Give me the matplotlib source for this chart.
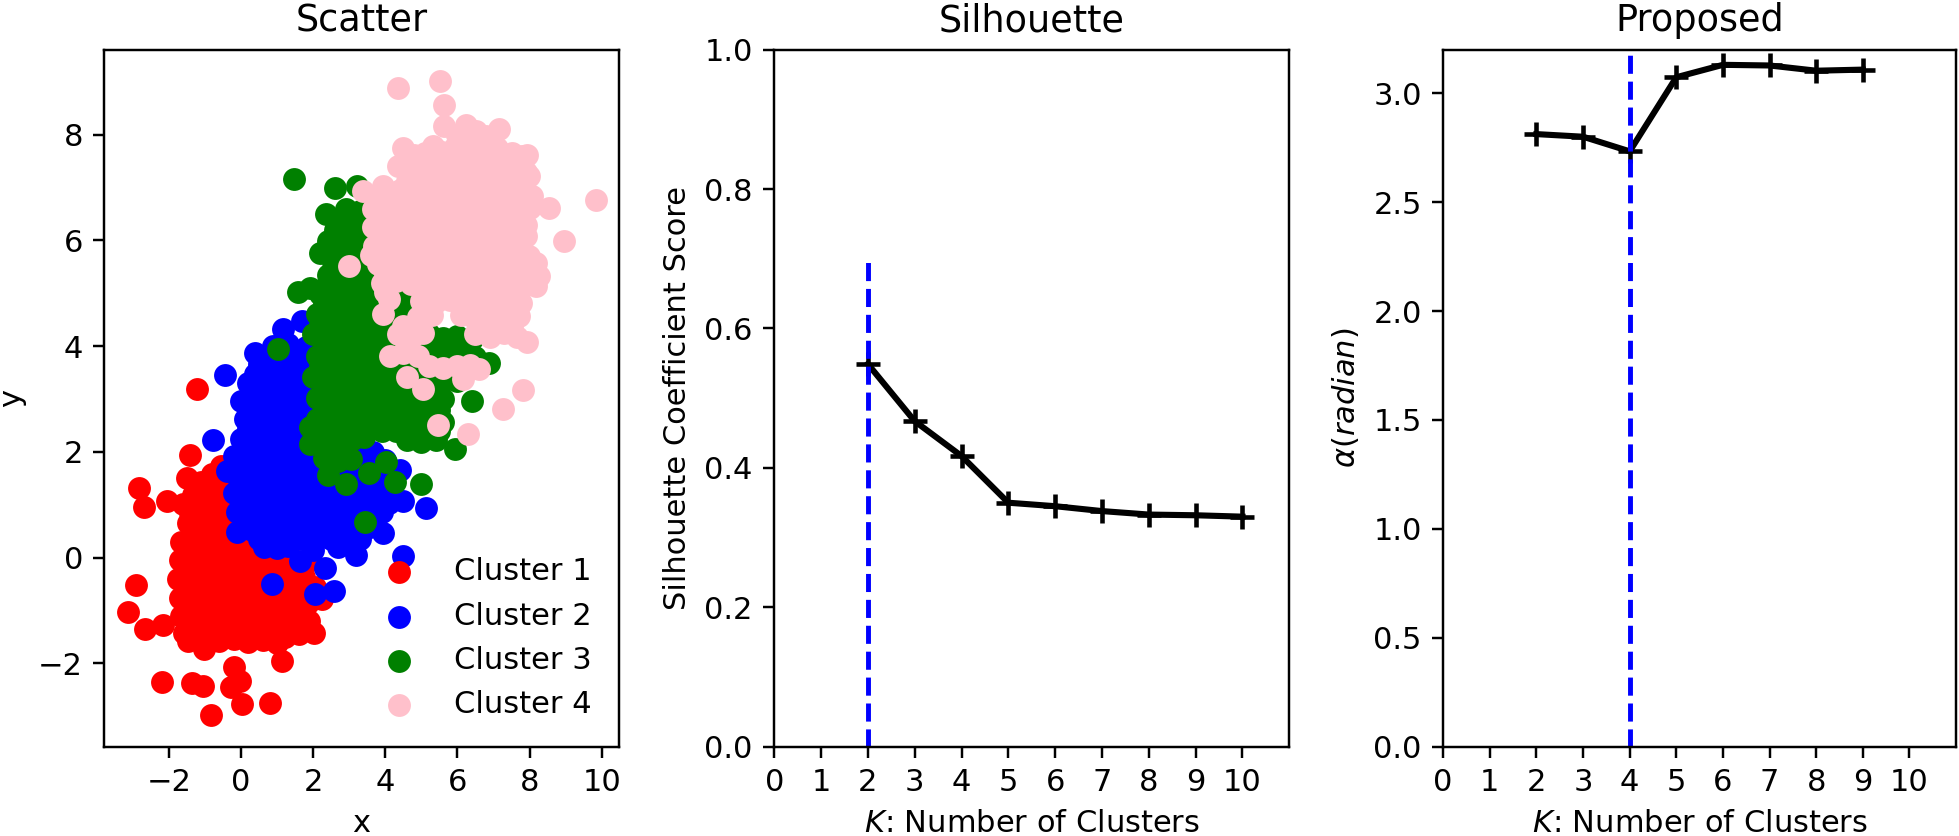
import matplotlib
matplotlib.use("Agg")
import matplotlib.pyplot as plt

# ---------------- data ----------------
red_pts = [
    (-1.21, 3.18), (-2.82, 1.32), (-2.69, 0.95), (-2.05, 1.07), (-1.40, 1.93), (-2.92, -0.52),
    (-3.14, -1.04), (-2.67, -1.35), (-2.15, -1.27), (-2.20, -2.36), (-1.35, -2.38), (-1.06, -2.43),
    (-0.82, -2.98), (0.04, -2.77), (0.81, -2.75), (-0.28, -2.45), (-0.02, -2.33), (-0.19, -2.08),
    (1.14, -1.96), (2.02, -1.42), (2.25, -0.79), (-0.56, 1.74), (-1.02, -1.73), (-1.48, -1.58),
    (-1.50, 1.50), (-1.10, 1.42), (-0.80, 1.58), (-1.32, 1.18),
    (-1.62, 1.02), (-1.20, 0.92), (-0.82, 1.12), (-0.42, 1.00), (0.02, 0.95),
    (-1.48, 0.66), (-1.08, 0.74), (-0.70, 0.60), (-0.30, 0.76), (0.18, 0.62), (0.62, 0.70),
    (-1.66, 0.30), (-1.28, 0.36), (-0.90, 0.24), (-0.50, 0.40), (-0.10, 0.30), (0.30, 0.20),
    (0.80, 0.35), (1.20, 0.22),
    (-1.70, -0.05), (-1.38, 0.02), (-1.00, -0.10), (-0.60, 0.05), (-0.20, -0.04), (0.22, -0.10),
    (0.60, 0.02), (1.00, -0.15), (1.40, 0.00), (1.80, -0.10),
    (-1.74, -0.40), (-1.42, -0.34), (-1.04, -0.45), (-0.64, -0.30), (-0.24, -0.42), (0.16, -0.34),
    (0.56, -0.46), (0.96, -0.30), (1.36, -0.44), (1.74, -0.36), (2.04, -0.56),
    (-1.70, -0.76), (-1.34, -0.80), (-0.94, -0.70), (-0.54, -0.82), (-0.14, -0.70), (0.26, -0.80),
    (0.66, -0.70), (1.06, -0.82), (1.46, -0.74), (1.86, -0.86),
    (-1.66, -1.10), (-1.28, -1.14), (-0.88, -1.04), (-0.48, -1.16), (-0.08, -1.04), (0.32, -1.14),
    (0.72, -1.04), (1.12, -1.16), (1.52, -1.10), (1.90, -1.20),
    (-1.58, -1.42), (-1.18, -1.48), (-0.78, -1.38), (-0.38, -1.50), (0.02, -1.40), (0.42, -1.50),
    (0.82, -1.44), (1.22, -1.50), (1.62, -1.44),
    (-0.60, -1.58), (-0.20, -1.55), (0.20, -1.60), (0.60, -1.56), (1.00, -1.62),
]
red_core = [
    (-1.00, 1.30), (-0.60, 1.30),
    (-1.40, 0.85), (-1.00, 0.85), (-0.60, 0.85), (-0.20, 0.85),
    (-1.30, 0.50), (-0.90, 0.50), (-0.50, 0.50), (-0.10, 0.50), (0.40, 0.50),
    (-1.50, 0.15), (-1.10, 0.15), (-0.70, 0.15), (-0.30, 0.15), (0.10, 0.15), (0.50, 0.15), (0.90, 0.15),
    (-1.55, -0.22), (-1.20, -0.22), (-0.80, -0.22), (-0.40, -0.22), (0.00, -0.22), (0.40, -0.22),
    (0.80, -0.22), (1.20, -0.22), (1.60, -0.22),
    (-1.50, -0.58), (-1.10, -0.58), (-0.70, -0.58), (-0.30, -0.58), (0.10, -0.58), (0.50, -0.58),
    (0.90, -0.58), (1.30, -0.58), (1.70, -0.58),
    (-1.50, -0.93), (-1.10, -0.93), (-0.70, -0.93), (-0.30, -0.93), (0.10, -0.93), (0.50, -0.93),
    (0.90, -0.93), (1.30, -0.93), (1.70, -0.93),
    (-1.40, -1.28), (-1.00, -1.28), (-0.60, -1.28), (-0.20, -1.28), (0.20, -1.28), (0.60, -1.28),
    (1.00, -1.28), (1.40, -1.28), (1.75, -1.28),
]
blue_pts = [
    (-0.77, 2.22), (-0.44, 3.46), (0.39, 3.86), (1.17, 4.32), (1.70, 4.47), (2.40, 4.88),
    (5.13, 0.94), (4.49, 1.07), (4.40, 1.66), (4.49, 0.02), (3.93, 0.46), (3.20, 0.05),
    (2.57, -0.63), (2.06, -0.69), (0.86, -0.50), (-0.12, 0.48), (-0.40, 1.64), (0.64, 0.19),
    (1.65, -0.06), (2.34, -0.19), (3.67, 1.99), (3.67, 1.11),
    (0.30, 0.52), (0.70, 0.45), (1.10, 0.55), (1.50, 0.42), (1.90, 0.50), (2.30, 0.40),
    (2.70, 0.52), (3.10, 0.45), (3.50, 0.55),
    (1.00, 0.18), (1.30, 0.22), (2.00, 0.15), (2.70, 0.20), (3.00, 0.25),
    (-0.10, 0.86), (0.30, 0.80), (0.70, 0.90), (1.10, 0.82), (1.50, 0.88), (1.90, 0.80),
    (2.30, 0.92), (2.70, 0.84), (3.10, 0.88), (3.50, 0.80), (3.90, 0.86),
    (-0.20, 1.22), (0.20, 1.16), (0.60, 1.24), (1.00, 1.18), (1.40, 1.22), (1.80, 1.16),
    (2.20, 1.24), (2.60, 1.18), (3.00, 1.22), (3.40, 1.16), (3.80, 1.24), (4.20, 1.20),
    (-0.10, 1.55), (0.30, 1.50), (0.70, 1.58), (1.10, 1.52), (1.50, 1.56), (1.90, 1.50),
    (2.30, 1.56), (2.70, 1.52), (3.10, 1.58), (3.50, 1.52), (3.90, 1.56),
    (-0.20, 1.92), (0.20, 1.86), (0.60, 1.94), (1.00, 1.88), (1.40, 1.92), (1.80, 1.86),
    (2.20, 1.94), (3.20, 1.90), (4.00, 1.85),
    (0.00, 2.25), (0.40, 2.20), (0.80, 2.28), (1.20, 2.22), (1.60, 2.26), (2.00, 2.20),
    (0.10, 2.62), (0.50, 2.56), (0.90, 2.64), (1.30, 2.58), (1.70, 2.62),
    (0.00, 2.96), (0.40, 2.92), (0.80, 2.98), (1.20, 2.94), (1.60, 2.96),
    (0.20, 3.30), (0.60, 3.26), (1.00, 3.32), (1.40, 3.28), (1.80, 3.30),
    (0.50, 3.66), (0.90, 3.62), (1.30, 3.68), (1.70, 3.64),
    (0.90, 4.00), (1.30, 4.04), (1.80, 3.98), (2.20, 4.10), (2.00, 4.45),
]
blue_core = [
    (0.10, 0.68), (0.50, 0.68), (0.90, 0.68), (1.30, 0.68), (1.70, 0.68), (2.10, 0.68),
    (2.50, 0.68), (2.90, 0.68), (3.30, 0.68), (3.70, 0.68),
    (0.50, 0.35), (0.90, 0.35), (1.30, 0.35), (1.70, 0.35), (2.10, 0.35), (2.50, 0.35),
    (2.90, 0.35), (3.30, 0.35),
    (0.10, 1.03), (0.50, 1.03), (0.90, 1.03), (1.30, 1.03), (1.70, 1.03), (2.10, 1.03),
    (2.50, 1.03), (2.90, 1.03), (3.30, 1.03), (3.70, 1.03), (4.10, 1.03),
    (0.00, 1.38), (0.40, 1.38), (0.80, 1.38), (1.20, 1.38), (1.60, 1.38), (2.00, 1.38),
    (2.40, 1.38), (2.80, 1.38), (3.20, 1.38), (3.60, 1.38), (4.00, 1.38),
    (0.00, 1.72), (0.40, 1.72), (0.80, 1.72), (1.20, 1.72), (1.60, 1.72), (2.00, 1.72),
    (2.40, 1.72), (2.80, 1.72), (3.40, 1.72), (3.80, 1.72),
    (0.20, 2.08), (0.60, 2.08), (1.00, 2.08), (1.40, 2.08), (1.80, 2.08),
    (0.20, 2.43), (0.60, 2.43), (1.00, 2.43), (1.40, 2.43), (1.80, 2.43),
    (0.20, 2.78), (0.60, 2.78), (1.00, 2.78), (1.40, 2.78), (1.80, 2.78),
    (0.40, 3.13), (0.80, 3.13), (1.20, 3.13), (1.60, 3.13),
    (0.40, 3.48), (0.80, 3.48), (1.20, 3.48), (1.60, 3.48),
    (0.70, 3.82), (1.10, 3.82), (1.50, 3.82), (1.90, 3.82),
]
green_pts = [
    (1.47, 7.16), (2.61, 7.00), (3.21, 7.02), (2.36, 6.49), (2.42, 5.98), (2.19, 5.76),
    (2.41, 5.34), (1.58, 5.02), (1.91, 5.09), (1.03, 3.95), (3.43, 0.67), (2.41, 1.56),
    (2.92, 1.40), (3.56, 1.59), (4.26, 1.42), (4.99, 1.39), (5.94, 2.05), (6.41, 2.97),
    (4.03, 1.80), (6.87, 3.68), (1.91, 2.47), (1.91, 2.15),
    (2.90, 6.60), (3.30, 6.55),
    (2.60, 6.20), (2.90, 6.24), (3.30, 6.18), (3.70, 6.22),
    (2.60, 5.80), (3.00, 5.76), (3.40, 5.82),
    (2.70, 5.40), (3.00, 5.44), (3.30, 5.38), (3.70, 5.42),
    (2.20, 4.98), (2.60, 5.04), (3.00, 4.98), (3.40, 5.02), (3.80, 4.96), (4.50, 4.92),
    (2.10, 4.60), (2.50, 4.64), (2.90, 4.58), (3.30, 4.62), (3.70, 4.56), (4.10, 4.60), (4.50, 4.64),
    (2.00, 4.22), (2.40, 4.18), (2.80, 4.24), (3.20, 4.18), (3.60, 4.22), (4.00, 4.18),
    (4.40, 4.24), (4.80, 4.18), (5.20, 4.22), (5.60, 4.16), (6.00, 4.20), (6.40, 4.14),
    (2.10, 3.82), (2.50, 3.78), (2.90, 3.84), (3.30, 3.78), (3.70, 3.82), (4.10, 3.78),
    (4.50, 3.84), (4.90, 3.78), (5.30, 3.82), (5.70, 3.94), (6.10, 3.96), (6.50, 3.80),
    (2.00, 3.42), (2.40, 3.38), (2.80, 3.44), (3.20, 3.38), (3.60, 3.42), (4.00, 3.38),
    (4.40, 3.44), (4.80, 3.38), (5.20, 3.42), (5.60, 3.38), (6.00, 3.34),
    (2.10, 3.02), (2.50, 2.98), (2.90, 3.04), (3.30, 2.98), (3.70, 3.02), (4.10, 2.98),
    (4.50, 3.04), (4.90, 2.98), (5.30, 3.02), (5.60, 3.00),
    (2.10, 2.62), (2.50, 2.58), (2.90, 2.64), (3.30, 2.58), (3.70, 2.62), (4.10, 2.58),
    (4.50, 2.64), (4.90, 2.58), (5.30, 2.62), (5.60, 2.56),
    (2.30, 2.22), (2.70, 2.18), (3.10, 2.24), (3.40, 2.28), (4.60, 2.22), (5.00, 2.18), (5.40, 2.22),
    (2.30, 1.88), (2.70, 1.82), (3.05, 1.86),
]
green_core = [
    (2.75, 6.40), (3.10, 6.40),
    (2.80, 6.00), (3.20, 6.00),
    (2.55, 5.60), (2.85, 5.60), (3.15, 5.60), (3.50, 5.60),
    (2.40, 5.20), (2.80, 5.20), (3.20, 5.20), (3.60, 5.20),
    (2.30, 4.80), (2.70, 4.80), (3.10, 4.80), (3.50, 4.80), (3.90, 4.80), (4.30, 4.80),
    (2.20, 4.40), (2.60, 4.40), (3.00, 4.40), (3.40, 4.40), (3.80, 4.40), (4.20, 4.40),
    (4.60, 4.40), (5.00, 4.40),
    (2.30, 4.00), (2.70, 4.00), (3.10, 4.00), (3.50, 4.00), (3.90, 4.00), (4.30, 4.00),
    (4.70, 4.00), (5.10, 4.00), (5.50, 4.00), (5.90, 4.00), (6.30, 4.00),
    (2.20, 3.60), (2.60, 3.60), (3.00, 3.60), (3.40, 3.60), (3.80, 3.60), (4.20, 3.60),
    (4.60, 3.60), (5.00, 3.60), (5.40, 3.60), (5.80, 3.60), (6.20, 3.60),
    (2.30, 3.20), (2.70, 3.20), (3.10, 3.20), (3.50, 3.20), (3.90, 3.20), (4.30, 3.20),
    (4.70, 3.20), (5.10, 3.20), (5.50, 3.20),
    (2.30, 2.80), (2.70, 2.80), (3.10, 2.80), (3.50, 2.80), (3.90, 2.80), (4.30, 2.80),
    (4.70, 2.80), (5.10, 2.80), (5.50, 2.80),
    (2.30, 2.40), (2.70, 2.40), (3.10, 2.40), (3.50, 2.40), (3.90, 2.40), (4.30, 2.40),
    (4.70, 2.40), (5.10, 2.40), (5.50, 2.40),
    (2.50, 2.05), (2.90, 2.05),
]
pink_pts = [
    (4.36, 8.88), (5.51, 9.01), (5.64, 8.57), (5.64, 8.16), (6.24, 8.19), (6.52, 8.06),
    (7.16, 8.10), (7.94, 7.62), (7.99, 7.21), (9.83, 6.77), (8.54, 6.62), (8.96, 5.98),
    (7.90, 6.08), (8.18, 5.58), (8.18, 5.14), (7.94, 4.07), (7.81, 3.16), (7.26, 2.81),
    (6.29, 2.34), (5.46, 2.50), (5.05, 3.19), (4.59, 3.41), (4.12, 3.81), (3.94, 4.61),
    (6.15, 3.38), (6.61, 3.57), (7.44, 4.45), (2.99, 5.52), (3.38, 6.94), (3.94, 7.02),
    (4.49, 7.75), (4.36, 7.40), (5.32, 7.78), (8.08, 6.84), (7.99, 5.70), (8.27, 5.32),
    (6.00, 8.00), (6.80, 7.98),
    (4.80, 7.62), (5.10, 7.66), (5.50, 7.70), (5.90, 7.74), (6.30, 7.76), (6.70, 7.72),
    (7.10, 7.74), (7.50, 7.66), (7.80, 7.60),
    (4.70, 7.30), (5.10, 7.34), (5.50, 7.28), (5.90, 7.32), (6.30, 7.28), (6.70, 7.34),
    (7.10, 7.28), (7.50, 7.32), (7.90, 7.30),
    (4.40, 6.96), (4.80, 6.92), (5.20, 6.98), (5.60, 6.92), (6.00, 6.98), (6.40, 6.92),
    (6.80, 6.98), (7.20, 6.92), (7.60, 6.98),
    (3.65, 6.60), (4.00, 6.64), (4.40, 6.58), (4.80, 6.64), (5.20, 6.58), (5.60, 6.64),
    (6.00, 6.58), (6.40, 6.64), (6.80, 6.58), (7.20, 6.64), (7.60, 6.58), (8.00, 6.62),
    (3.65, 6.25), (4.00, 6.22), (4.40, 6.28), (4.80, 6.22), (5.20, 6.28), (5.60, 6.22),
    (6.00, 6.28), (6.40, 6.22), (6.80, 6.28), (7.20, 6.22), (7.60, 6.28), (7.90, 6.30),
    (3.70, 5.90), (4.10, 5.86), (4.50, 5.92), (4.90, 5.86), (5.30, 5.92), (5.70, 5.86),
    (6.10, 5.92), (6.50, 5.86), (6.90, 5.92), (7.30, 5.86), (7.70, 5.92),
    (3.80, 5.55), (4.20, 5.52), (4.60, 5.58), (5.00, 5.52), (5.40, 5.58), (5.80, 5.52),
    (6.20, 5.58), (6.60, 5.52), (7.00, 5.58), (7.40, 5.52), (7.80, 5.56),
    (3.90, 5.20), (4.30, 5.24), (4.70, 5.18), (5.10, 5.24), (5.50, 5.18), (5.90, 5.24),
    (6.30, 5.18), (6.70, 5.24), (7.10, 5.18), (7.50, 5.24), (7.85, 5.20),
    (4.10, 4.90), (5.00, 4.86), (5.40, 4.84), (5.80, 4.88), (6.20, 4.84), (6.60, 4.88),
    (7.00, 4.84), (7.40, 4.88), (7.75, 4.82),
    (4.90, 4.55), (5.30, 4.58), (6.10, 4.58), (6.50, 4.52), (6.90, 4.58), (7.30, 4.52), (7.70, 4.56),
    (4.35, 4.22), (4.75, 4.18), (5.05, 4.24), (6.50, 4.22), (6.90, 4.18), (7.30, 4.24), (7.65, 4.18),
    (4.50, 3.86), (4.90, 3.82),
    (5.20, 3.62), (5.60, 3.58), (6.00, 3.62), (6.35, 3.64),
]
pink_core = [
    (4.90, 7.48), (5.30, 7.48), (5.70, 7.48), (6.10, 7.48), (6.50, 7.48), (6.90, 7.48),
    (7.30, 7.48), (7.70, 7.48),
    (4.60, 7.12), (5.00, 7.12), (5.40, 7.12), (5.80, 7.12), (6.20, 7.12), (6.60, 7.12),
    (7.00, 7.12), (7.40, 7.12), (7.80, 7.12),
    (3.85, 6.78), (4.20, 6.78), (4.60, 6.78), (5.00, 6.78), (5.40, 6.78), (5.80, 6.78),
    (6.20, 6.78), (6.60, 6.78), (7.00, 6.78), (7.40, 6.78), (7.80, 6.78),
    (3.80, 6.42), (4.20, 6.42), (4.60, 6.42), (5.00, 6.42), (5.40, 6.42), (5.80, 6.42),
    (6.20, 6.42), (6.60, 6.42), (7.00, 6.42), (7.40, 6.42), (7.80, 6.42),
    (3.85, 6.08), (4.30, 6.08), (4.70, 6.08), (5.10, 6.08), (5.50, 6.08), (5.90, 6.08),
    (6.30, 6.08), (6.70, 6.08), (7.10, 6.08), (7.50, 6.08),
    (3.60, 5.72), (4.00, 5.72), (4.40, 5.72), (4.80, 5.72), (5.20, 5.72), (5.60, 5.72),
    (6.00, 5.72), (6.40, 5.72), (6.80, 5.72), (7.20, 5.72), (7.60, 5.72),
    (4.00, 5.38), (4.40, 5.38), (4.80, 5.38), (5.20, 5.38), (5.60, 5.38), (6.00, 5.38),
    (6.40, 5.38), (6.80, 5.38), (7.20, 5.38), (7.60, 5.38), (8.00, 5.38),
    (4.00, 5.03), (5.30, 5.03), (5.70, 5.03), (6.10, 5.03), (6.50, 5.03), (6.90, 5.03),
    (7.30, 5.03), (7.70, 5.03),
    (5.10, 4.70), (6.30, 4.70), (6.70, 4.70), (7.10, 4.70), (7.50, 4.70),
    (4.50, 4.38), (4.90, 4.38), (6.70, 4.38), (7.10, 4.38), (7.50, 4.38),
]
cluster_labels = ["Cluster 1", "Cluster 2", "Cluster 3", "Cluster 4"]
cluster_colors = ["red", "blue", "green", "pink"]

k_sil = [2, 3, 4, 5, 6, 7, 8, 9, 10]
sil_scores = [0.549, 0.467, 0.417, 0.350, 0.345, 0.338, 0.333, 0.332, 0.330]
sil_best_k = 2

k_prop = [2, 3, 4, 5, 6, 7, 8, 9]
alpha_vals = [2.812, 2.800, 2.733, 3.073, 3.130, 3.127, 3.103, 3.108]
prop_best_k = 4

k_ticks = list(range(0, 11))

# ---------------- figure ----------------
DPI = 220
fig = plt.figure(figsize=(1960 / DPI, 836 / DPI), dpi=DPI)
bottom, height = 0.1068, 0.8339
ax1 = fig.add_axes([0.0532, bottom, 0.2626, height])
ax2 = fig.add_axes([0.3950, bottom, 0.2628, height])
ax3 = fig.add_axes([0.7363, bottom, 0.2617, height])

# Scatter
clusters = [red_pts + red_core, blue_pts + blue_core, green_pts + green_core, pink_pts + pink_core]
for pts, col, lab in zip(clusters, cluster_colors, cluster_labels):
    xs = [p[0] for p in pts]
    ys = [p[1] for p in pts]
    ax1.scatter(xs, ys, c=col, label=lab, s=56, linewidths=0)
ax1.set_title("Scatter")
ax1.set_xlabel("x")
ax1.set_ylabel("y")
ax1.set_xticks([-2, 0, 2, 4, 6, 8, 10])
ax1.legend(loc="lower right", frameon=False)

# Silhouette
ax2.plot(k_sil, sil_scores, color="black", marker="+", markersize=8, markeredgewidth=1.5, linewidth=2)
ax2.vlines(sil_best_k, 0, 0.7, colors="blue", linestyles="dashed", linewidth=1.6)
ax2.set_xlim(0, 11)
ax2.set_ylim(0, 1.0)
ax2.set_xticks(k_ticks)
ax2.set_title("Silhouette")
ax2.set_xlabel("$K$: Number of Clusters")
ax2.set_ylabel("Silhouette Coefficient Score")

# Proposed
ax3.plot(k_prop, alpha_vals, color="black", marker="+", markersize=8, markeredgewidth=1.5, linewidth=2)
ax3.vlines(prop_best_k, 0, 3.2, colors="blue", linestyles="dashed", linewidth=1.6)
ax3.set_xlim(0, 11)
ax3.set_ylim(0, 3.2)
ax3.set_xticks(k_ticks)
ax3.set_title("Proposed")
ax3.set_xlabel("$K$: Number of Clusters")
ax3.set_ylabel(r"$\alpha(radian)$")

fig.savefig("out.png", dpi=DPI)
